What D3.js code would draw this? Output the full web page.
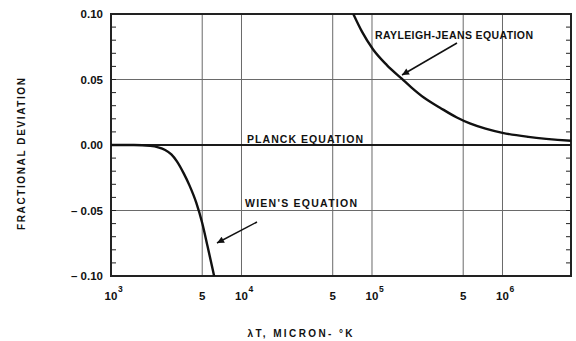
<!DOCTYPE html>
<html>
<head>
<meta charset="utf-8">
<script src="https://cdn.jsdelivr.net/npm/d3@7"></script>
<style>
  html, body { margin: 0; padding: 0; background: #fff; }
  svg { display: block; }
  text { font-family: "Liberation Sans", Arial, sans-serif; font-weight: bold; fill: #111; }
</style>
</head>
<body>
<svg id="chart" width="576" height="341"></svg>
<script>
// Fractional deviation of the Wien and Rayleigh-Jeans laws from Planck's law,
// plotted against the product lambda*T (micron-degrees K).

// Wien's equation: [lambdaT, deviation]
const wienLambdaT = [1000, 1500, 2000, 2300, 2600, 2900, 3200, 3600, 4000, 4500, 5000, 5500, 6000, 6200];
const wienDeviation = [0, 0, -0.0007, -0.0018, -0.0038, -0.0072, -0.0125, -0.0215, -0.031, -0.044, -0.0595, -0.0775, -0.0945, -0.101];

// Rayleigh-Jeans equation: [lambdaT, deviation]
const rjLambdaT = [71900, 83800, 102000, 130000, 170000, 200000, 251000, 332000, 447000, 562000, 741000, 1000000, 1580000, 3350000];
const rjDeviation = [0.100, 0.0865, 0.0729, 0.061, 0.0504, 0.044, 0.036, 0.0285, 0.021, 0.0165, 0.0125, 0.0093, 0.0062, 0.0032];

// Planck equation (reference line)
const planckLambdaT = [1000, 3350000];
const planckDeviation = [0, 0];

// Axis ticks
const xTickValues = [1e3, 5e3, 1e4, 5e4, 1e5, 5e5, 1e6];
const xTickBase = ["10", "5", "10", "5", "10", "5", "10"];
const xTickExp = ["3", "", "4", "", "5", "", "6"];
const yTickValues = [0.10, 0.05, 0.00, -0.05, -0.10];
const yTickLabels = ["0.10", "0.05", "0.00", "\u2013 0.05", "\u2013 0.10"];
const yMinorValues = d3.range(-9, 10).map(d => d / 100);

const svg = d3.select("#chart");
const plotLeft = 111, plotRight = 571, plotTop = 14, plotBottom = 276;

const x = d3.scaleLog().domain([1e3, 3.35e6]).range([plotLeft, plotRight]);
const y = d3.scaleLinear().domain([-0.1, 0.1]).range([plotBottom, plotTop]);

const defs = svg.append("defs");
defs.append("clipPath").attr("id", "plotClip")
  .append("rect").attr("x", plotLeft).attr("y", plotTop)
  .attr("width", plotRight - plotLeft).attr("height", plotBottom - plotTop);

const marker = defs.append("marker")
  .attr("id", "arrow").attr("viewBox", "0 0 10 10")
  .attr("refX", 10).attr("refY", 5)
  .attr("markerWidth", 10).attr("markerHeight", 7)
  .attr("markerUnits", "userSpaceOnUse")
  .attr("orient", "auto");
marker.append("path").attr("d", "M0,0 L10,5 L0,10 Z").attr("fill", "#111");

// vertical grid lines
svg.append("g").selectAll("line").data(xTickValues.slice(1)).join("line")
  .attr("x1", d => x(d)).attr("x2", d => x(d))
  .attr("y1", plotTop).attr("y2", plotBottom)
  .attr("stroke", "#6a6a6a").attr("stroke-width", 1);

// horizontal grid lines
svg.append("g").selectAll("line").data([0.05, -0.05]).join("line")
  .attr("x1", plotLeft).attr("x2", plotRight)
  .attr("y1", d => y(d)).attr("y2", d => y(d))
  .attr("stroke", "#6a6a6a").attr("stroke-width", 1);

// minor y ticks, inward on both sides
svg.append("g").selectAll("line").data(yMinorValues).join("line")
  .attr("x1", plotLeft).attr("x2", plotLeft + 5)
  .attr("y1", d => y(d)).attr("y2", d => y(d))
  .attr("stroke", "#222").attr("stroke-width", 1);
svg.append("g").selectAll("line").data(yMinorValues).join("line")
  .attr("x1", plotRight).attr("x2", plotRight - 5)
  .attr("y1", d => y(d)).attr("y2", d => y(d))
  .attr("stroke", "#222").attr("stroke-width", 1);

// frame
svg.append("rect").attr("x", plotLeft).attr("y", plotTop)
  .attr("width", plotRight - plotLeft).attr("height", plotBottom - plotTop)
  .attr("fill", "none").attr("stroke", "#222").attr("stroke-width", 2);

// curves
const line = d3.line().x(d => x(d[0])).y(d => y(d[1])).curve(d3.curveMonotoneX);
const plot = svg.append("g").attr("clip-path", "url(#plotClip)");
plot.append("path").datum(d3.zip(planckLambdaT, planckDeviation))
  .attr("d", line).attr("fill", "none").attr("stroke", "#1a1a1a").attr("stroke-width", 2);
plot.append("path").datum(d3.zip(wienLambdaT, wienDeviation))
  .attr("d", line).attr("fill", "none").attr("stroke", "#111").attr("stroke-width", 2.4);
plot.append("path").datum(d3.zip(rjLambdaT, rjDeviation))
  .attr("d", line).attr("fill", "none").attr("stroke", "#111").attr("stroke-width", 2.4);

// y tick labels
svg.append("g").selectAll("text").data(yTickValues).join("text")
  .attr("x", 103).attr("y", d => y(d) + 4)
  .attr("text-anchor", "end").attr("font-size", 11.5)
  .text((d, i) => yTickLabels[i]);

// x tick labels with superscript exponents
const xt = svg.append("g").selectAll("g").data(xTickValues).join("g");
xt.append("text")
  .attr("x", d => x(d)).attr("y", 300)
  .attr("text-anchor", "middle").attr("font-size", 11.5)
  .text((d, i) => xTickBase[i]);
xt.append("text")
  .attr("x", d => x(d) + 7).attr("y", 292)
  .attr("text-anchor", "start").attr("font-size", 8.5)
  .text((d, i) => xTickExp[i]);

// axis titles
svg.append("text")
  .attr("transform", "translate(25,154) rotate(-90)")
  .attr("text-anchor", "middle").attr("font-size", 10)
  .attr("textLength", 152).attr("lengthAdjust", "spacing")
  .text("FRACTIONAL DEVIATION");
svg.append("text")
  .attr("x", 300).attr("y", 337)
  .attr("text-anchor", "middle").attr("font-size", 10)
  .attr("textLength", 105).attr("lengthAdjust", "spacing")
  .text("\u03BBT, MICRON- \u00B0K");

// curve annotations
svg.append("text").attr("x", 375).attr("y", 39).attr("font-size", 10.5)
  .attr("textLength", 158).attr("lengthAdjust", "spacing")
  .text("RAYLEIGH-JEANS EQUATION");
svg.append("text").attr("x", 247).attr("y", 143).attr("font-size", 10.5)
  .attr("textLength", 116).attr("lengthAdjust", "spacing")
  .text("PLANCK EQUATION");
svg.append("text").attr("x", 245).attr("y", 207).attr("font-size", 10.5)
  .attr("textLength", 112).attr("lengthAdjust", "spacing")
  .text("WIEN'S EQUATION");

// pointer arrows
svg.append("line").attr("x1", 457).attr("y1", 43).attr("x2", 402).attr("y2", 75)
  .attr("stroke", "#111").attr("stroke-width", 1.5).attr("marker-end", "url(#arrow)");
svg.append("line").attr("x1", 257).attr("y1", 222).attr("x2", 217).attr("y2", 243)
  .attr("stroke", "#111").attr("stroke-width", 1.5).attr("marker-end", "url(#arrow)");
</script>
</body>
</html>
